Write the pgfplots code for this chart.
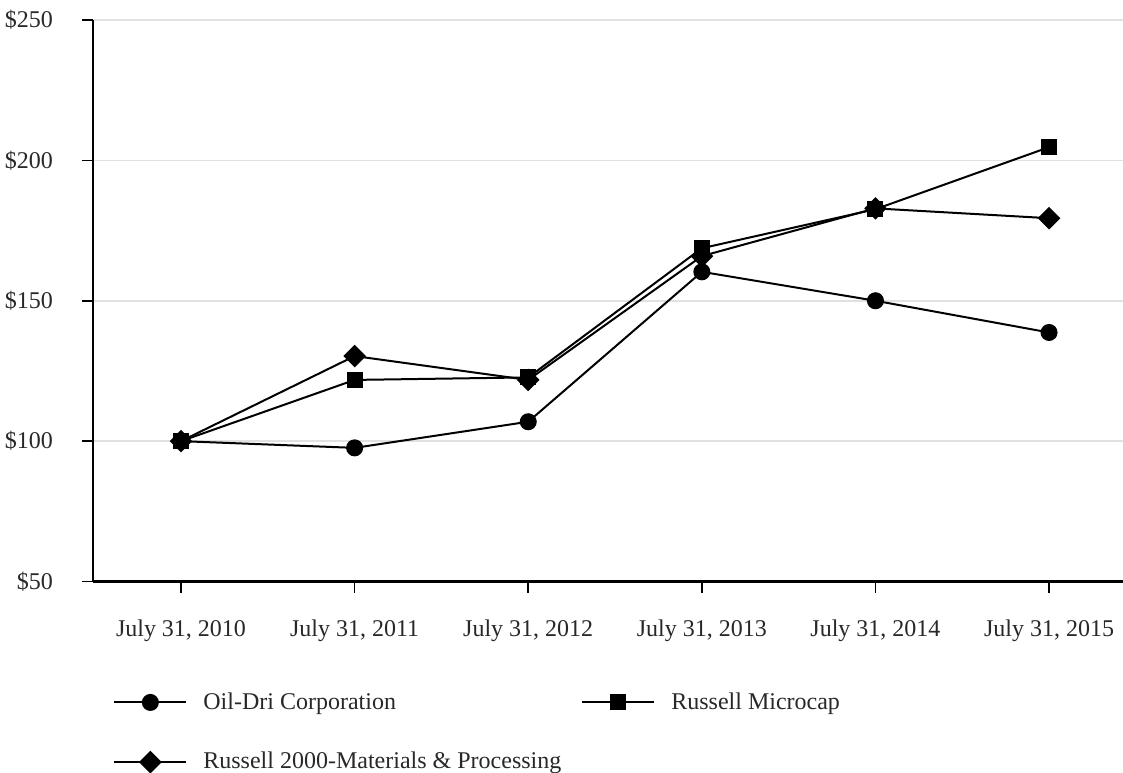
\documentclass[border=0pt]{standalone}
\usepackage{fontspec}
\setmainfont{Liberation Serif}
\usepackage{pgfplots}
\pgfplotsset{compat=1.18}
\definecolor{gridgray}{RGB}{225,225,225}
\definecolor{txt}{RGB}{40,40,40}
\begin{document}
\begin{tikzpicture}[x=1pt,y=1pt]
\useasboundingbox (0,0) rectangle (561.5,386);
\begin{axis}[
    at={(46.5pt,95.25pt)}, anchor=south west,
    width=515pt, height=280.75pt, scale only axis,
    xmin=-0.507, xmax=5.426,
    ymin=50, ymax=250,
    axis x line*=bottom, axis y line*=left,
    axis line style={line width=1.4pt, -},
    xtick={0,1,2,3,4,5},
    xticklabels={{July 31, 2010},{July 31, 2011},{July 31, 2012},{July 31, 2013},{July 31, 2014},{July 31, 2015}},
    ytick={50,100,150,200,250},
    yticklabels={\$50,\$100,\$150,\$200,\$250},
    tick align=outside,
    major tick length=5.5pt,
    tick style={line width=0.8pt, black},
    ymajorgrids=true,
    grid style={gridgray, line width=0.8pt},
    ticklabel style={font=\fontsize{12}{14}\selectfont, text=txt},
    xticklabel style={yshift=-10pt},
    yticklabel style={xshift=-11pt},
    legend columns=2,
    legend cell align=left,
    legend style={
        at={(0.0194,-0.19)}, anchor=north west,
        draw=none, fill=none, inner sep=0pt,
        font=\fontsize{12}{14}\selectfont, text=txt,
        /tikz/every odd column/.append style={column sep=6pt},
        /tikz/every even column/.append style={column sep=8pt},
        row sep=16pt,
    },
    legend image code/.code={
        \draw[mark repeat=2,mark phase=2] plot coordinates {(0pt,0pt) (18pt,0pt) (36pt,0pt)};
    },
    every axis plot/.append style={black, line width=1pt},
]
\addplot[mark=*, mark size=3.75pt] coordinates {
    (0,100) (1,97.6) (2,106.9) (3,160.3) (4,150.0) (5,138.7)
};
\addlegendentry{Oil-Dri Corporation}
\addplot[mark=square*, mark size=3.5pt] coordinates {
    (0,100) (1,121.8) (2,122.7) (3,168.7) (4,182.6) (5,204.7)
};
\addlegendentry{Russell Microcap}
\addplot[mark=square*, mark size=3.5pt, mark options={rotate=45}] coordinates {
    (0,100) (1,130.3) (2,121.8) (3,165.9) (4,182.9) (5,179.4)
};
\addlegendentry{Russell 2000-Materials \& Processing}
\end{axis}
\end{tikzpicture}
\end{document}
